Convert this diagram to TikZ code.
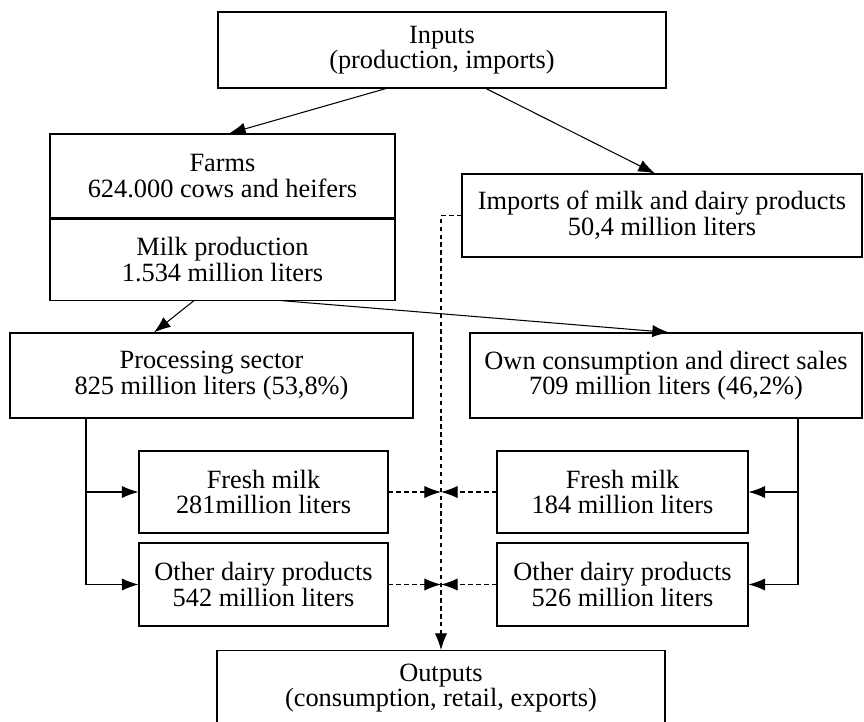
\documentclass[tikz,border=0pt]{standalone}
\usepackage{fontspec}
\setmainfont{Liberation Serif}
\usetikzlibrary{arrows.meta,positioning,calc}

\begin{document}
\begin{tikzpicture}[>={Latex[length=9.5pt,width=7pt]},
    box/.style={draw, line width=0.6pt, align=center, inner sep=0pt,
        font=\fontsize{15}{14.6}\selectfont},
    flow/.style={->, line width=0.6pt},
    dflow/.style={->, line width=0.6pt, dash pattern=on 2.5pt off 2pt}]
        \clip (0,0) rectangle (17.28,-14.42);

        % Inputs (top)
        \node[box, minimum width=8.96cm, minimum height=1.52cm] (inputs) at (8.84,-1.0) {Inputs\\(production, imports)};

        % Farms and milk production (left)
        \node[box, minimum width=6.9cm, minimum height=1.68cm] (farms) at (4.45,-3.52) {Farms\\624.000 cows and heifers};
        \node[box, minimum width=6.9cm, minimum height=1.62cm, anchor=north] (milk) at (farms.south) {Milk production\\1.534 million liters};

        % Imports (right)
        \node[box, minimum width=8.0cm, minimum height=1.66cm] (imports) at (13.24,-4.31) {Imports of milk and dairy products\\50,4 million liters};

        % Processing and own consumption
        \node[box, minimum width=8.06cm, minimum height=1.7cm] (proc) at (4.23,-7.51) {Processing sector\\825 million liters (53,8\%)};
        \node[box, minimum width=7.84cm, minimum height=1.7cm] (own) at (13.32,-7.51) {Own consumption and direct sales\\709 million liters (46,2\%)};

        % Products (left)
        \node[box, minimum width=4.98cm, minimum height=1.64cm] (freshL) at (5.27,-9.84) {Fresh milk\\281million liters};
        \node[box, minimum width=4.98cm, minimum height=1.66cm] (otherL) at (5.27,-11.69) {Other dairy products\\542 million liters};

        % Products (right)
        \node[box, minimum width=5.02cm, minimum height=1.64cm] (freshR) at (12.45,-9.84) {Fresh milk\\184 million liters};
        \node[box, minimum width=5.02cm, minimum height=1.66cm] (otherR) at (12.45,-11.69) {Other dairy products\\526 million liters};

        % Outputs (bottom)
        \node[box, minimum width=8.96cm, minimum height=1.5cm, anchor=north] (outputs) at (8.82,-13.0) {Outputs\\(consumption, retail, exports)};

        % Arrows
        \draw[flow] ([xshift=-1.12cm]inputs.south) -- ([xshift=0.13cm]farms.north);
        \draw[flow] ([xshift=0.88cm]inputs.south) -- ([xshift=-0.14cm]imports.north);
        \draw[flow] ([xshift=-0.57cm]milk.south) -- ([xshift=-1.15cm]proc.north);
        \draw[flow] ([xshift=1.17cm]milk.south) -- ([xshift=0.06cm]own.north);

        % branches to products
        \coordinate (pl) at ([xshift=-2.51cm]proc.south);
        \coordinate (or) at ([xshift=2.64cm]own.south);
        \draw[flow] (pl) |- (freshL.west);
        \draw[flow] (pl) |- (otherL.west);
        \draw[flow] (or) |- (freshR.east);
        \draw[flow] (or) |- (otherR.east);

        % dashed flows to outputs
        \draw[dflow] (imports.west) -| (outputs.north);
        \draw[dflow] (freshL.east) -- (freshL.east -| outputs.north);
        \draw[dflow] (otherL.east) -- (otherL.east -| outputs.north);
        \draw[dflow] (freshR.west) -- (freshR.west -| outputs.north);
        \draw[dflow] (otherR.west) -- (otherR.west -| outputs.north);

    \end{tikzpicture}
\end{document}
